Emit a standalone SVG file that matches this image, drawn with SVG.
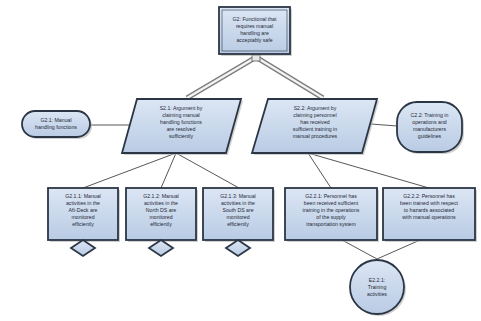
<svg xmlns="http://www.w3.org/2000/svg" width="481" height="321" viewBox="0 0 481 321">
<defs>
<linearGradient id="g" x1="0" y1="0" x2="0" y2="1"><stop offset="0" stop-color="#dce6f4"/><stop offset="1" stop-color="#b9cbe4"/></linearGradient>
<style>
.n{fill:url(#g);stroke:#2b3645;stroke-width:1.8}
.sh{fill:#b0b0b0;opacity:0.6}
.t{font-family:"Liberation Sans",Arial,sans-serif;font-size:5.2px;fill:#1f2a38;text-anchor:middle}
.c{stroke:#444;stroke-width:0.9;fill:none}
.dl{stroke:#7d7d7d;stroke-width:5;fill:none}
.dw{stroke:#f4f4f4;stroke-width:2.4;fill:none}
</style>
</defs>
<rect width="481" height="321" fill="#fff"/>
<g id="connectors">
<path class="dl" d="M253 59 L187 98 M259 59 L323 98"/>
<path class="dw" d="M253 59 L187 98 M259 59 L323 98"/>
<rect x="252" y="55" width="8" height="6" fill="#e8e8e8" stroke="#777" stroke-width="1"/>
<path class="c" d="M90 125 L131 125 M371 124 L397 126"/>
<path class="c" d="M176 153 L83 188 M176 153 L161 188 M176 153 L239 188"/>
<path class="c" d="M308 153 L331 188 M308 153 L429 188"/>
<path class="c" d="M342 240 L377 259 M420 240 L377 259"/>
</g>
<g id="G2">
<rect class="sh" x="221" y="9" width="71" height="47"/>
<rect class="n" x="219" y="7" width="71" height="47"/>
<rect x="222" y="10" width="65" height="41" fill="none" stroke="#2b3645" stroke-width="0.6"/>
<text class="t" x="254.5" y="21">G2: Functional that</text>
<text class="t" x="254.5" y="28">requires manual</text>
<text class="t" x="254.5" y="35">handling are</text>
<text class="t" x="254.5" y="42">acceptably safe</text>
</g>
<g id="G2.1">
<rect class="sh" x="24" y="113" width="68" height="26" rx="13"/>
<rect class="n" x="22" y="111" width="68" height="26" rx="13"/>
<text class="t" x="56" y="122">G2.1: Manual</text>
<text class="t" x="56" y="129">handling functions</text>
</g>
<g id="S2.1">
<polygon class="sh" points="139,101 243,101 228,155 124,155"/>
<polygon class="n" points="137,99 241,99 226,153 122,153"/>
<text class="t" x="181" y="110">S2.1: Argument by</text>
<text class="t" x="181" y="117">claiming manual</text>
<text class="t" x="181" y="124">handling functions</text>
<text class="t" x="181" y="131">are resolved</text>
<text class="t" x="181" y="138">sufficiently</text>
</g>
<g id="S2.2">
<polygon class="sh" points="270,101 379,101 364,155 254,155"/>
<polygon class="n" points="268,99 377,99 362,153 252,153"/>
<text class="t" x="315" y="110">S2.2: Argument by</text>
<text class="t" x="315" y="117">claiming personnel</text>
<text class="t" x="315" y="124">has received</text>
<text class="t" x="315" y="131">sufficient training in</text>
<text class="t" x="315" y="138">manual procedures</text>
</g>
<g id="C2.2">
<rect class="sh" x="399" y="104" width="65" height="50" rx="20"/>
<rect class="n" x="397" y="102" width="65" height="50" rx="20"/>
<text class="t" x="429.5" y="117">C2.2: Training in</text>
<text class="t" x="429.5" y="124">operations and</text>
<text class="t" x="429.5" y="131">manufacturers</text>
<text class="t" x="429.5" y="138">guidelines</text>
</g>
<g id="G2.1.1">
<rect class="sh" x="50" y="190" width="70" height="52"/>
<rect class="n" x="48" y="188" width="70" height="52"/>
<text class="t" x="83" y="198">G2.1.1: Manual</text>
<text class="t" x="83" y="205">activities in the</text>
<text class="t" x="83" y="212">Aft-Deck are</text>
<text class="t" x="83" y="219">monitored</text>
<text class="t" x="83" y="226">efficiently</text>
<polygon class="n" points="83,240 95,248 83,256 71,248"/>
</g>
<g id="G2.1.2">
<rect class="sh" x="128" y="190" width="70" height="52"/>
<rect class="n" x="126" y="188" width="70" height="52"/>
<text class="t" x="161" y="198">G2.1.2: Manual</text>
<text class="t" x="161" y="205">activities in the</text>
<text class="t" x="161" y="212">North DS are</text>
<text class="t" x="161" y="219">monitored</text>
<text class="t" x="161" y="226">efficiently</text>
<polygon class="n" points="161,240 173,248 161,256 149,248"/>
</g>
<g id="G2.1.3">
<rect class="sh" x="205" y="190" width="70" height="52"/>
<rect class="n" x="203" y="188" width="70" height="52"/>
<text class="t" x="238" y="198">G2.1.3: Manual</text>
<text class="t" x="238" y="205">activities in the</text>
<text class="t" x="238" y="212">South DS are</text>
<text class="t" x="238" y="219">monitored</text>
<text class="t" x="238" y="226">efficiently</text>
<polygon class="n" points="238,240 250,248 238,256 226,248"/>
</g>
<g id="G2.2.1">
<rect class="sh" x="287" y="190" width="92" height="52"/>
<rect class="n" x="285" y="188" width="92" height="52"/>
<text class="t" x="331" y="198">G2.2.1: Personnel has</text>
<text class="t" x="331" y="205">been received sufficient</text>
<text class="t" x="331" y="212">training in the operations</text>
<text class="t" x="331" y="219">of the supply</text>
<text class="t" x="331" y="226">transportation system</text>
</g>
<g id="G2.2.2">
<rect class="sh" x="385" y="190" width="92" height="52"/>
<rect class="n" x="383" y="188" width="92" height="52"/>
<text class="t" x="429" y="198">G2.2.2: Personnel has</text>
<text class="t" x="429" y="205">been trained with respect</text>
<text class="t" x="429" y="212">to hazards associated</text>
<text class="t" x="429" y="219">with manual operations</text>
</g>
<g id="E2.2.1">
<circle class="sh" cx="379" cy="289" r="27"/>
<circle class="n" cx="377" cy="287" r="27"/>
<text class="t" x="377" y="282">E2.2.1:</text>
<text class="t" x="377" y="289">Training</text>
<text class="t" x="377" y="296">activities</text>
</g>
</svg>
